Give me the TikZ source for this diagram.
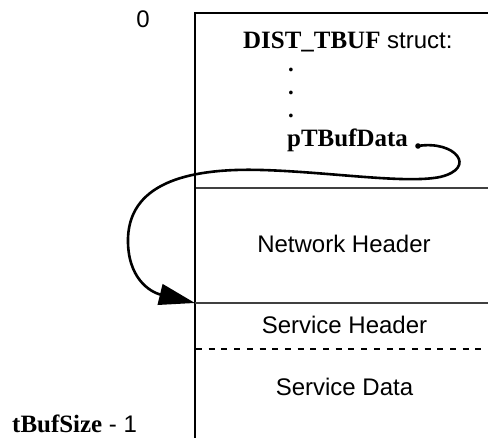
\documentclass[tikz,border=0pt]{standalone}
\usepackage{fontspec}
\setmainfont{Liberation Sans}
\newfontfamily\serifbf[Scale=1.04]{Liberation Serif}
\usetikzlibrary{arrows.meta}
\begin{document}
\begin{tikzpicture}[x=1pt,y=-1pt,
  every node/.style={inner sep=0pt,font=\fontsize{24}{28}\selectfont},
  boxline/.style={line width=1.2pt},
  sepline/.style={line width=1.2pt,black!75},
  dashsep/.style={line width=1.2pt,dash pattern=on 6pt off 6.7pt},
  pointer/.style={line width=2.6pt,-{Triangle[length=36pt,width=21pt]}},
  dotmark/.style={anchor=base west,font=\serifbf\bfseries\fontsize{22}{22}\selectfont},
  lbl/.style={anchor=base}]
\useasboundingbox (0,0) rectangle (488,438);
% box frame
\coordinate (tl) at (195,13);
\coordinate (tr) at (490,13);
\coordinate (bl) at (195,440);
\draw[boxline] (tr) -- (tl) -- (bl);
\coordinate (s1l) at (196,188); \coordinate (s1r) at (490,188);
\coordinate (tip) at (195,303); \coordinate (s2r) at (490,303);
\coordinate (s3l) at (196,349); \coordinate (s3r) at (490,349);
\draw[sepline] (s1l) -- (s1r);
\draw[sepline] (tip) -- (s2r);
\draw[dashsep] (s3l) -- (s3r);
% texts
\node[anchor=base] (zero) at (143,28) {0};
\node[anchor=base west] (title) at (243,49) {{\serifbf\bfseries DIST\_TBUF} struct:};
\node[dotmark] (d1) at (288,72) {.};
\node[dotmark] (d2) at (288,95) {.};
\node[dotmark] (d3) at (288,118) {.};
\node[anchor=base west] (ptrtxt) at (287,147) {\serifbf\bfseries pTBufData};
\node[lbl] (net) at (344,253) {Network Header};
\node[lbl] (sh) at (344.5,334) {Service Header};
\node[lbl] (sd) at (344.5,396) {Service Data};
\node[anchor=base west] (size) at (12,433) {{\serifbf\bfseries tBufSize} - 1};
% pointer
\coordinate (ptr) at (418,146);
\fill (ptr) circle (2.8pt);
\draw[pointer] (ptr) .. controls (455,140) and (478,168) .. (440,177)
  .. controls (405,184) and (330,172) .. (262,170)
  .. controls (195,168) and (130,180) .. (128,238)
  .. controls (127,278) and (150,292) .. (tip);
\end{tikzpicture}
\end{document}
